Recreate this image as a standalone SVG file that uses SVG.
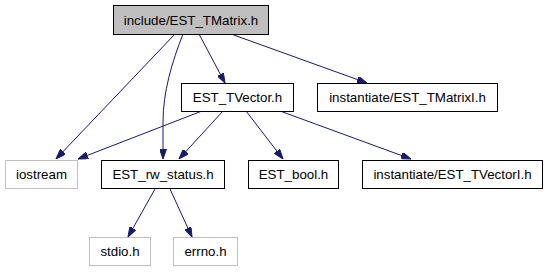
<svg xmlns="http://www.w3.org/2000/svg" width="547" height="272" viewBox="0 0 547 272">
  <style>
    .box { fill: #ffffff; stroke: #000000; stroke-width: 1; }
    .sel { fill: #bfbfbf; stroke: #000000; stroke-width: 1; }
    .ext { fill: #ffffff; stroke: #bfbfbf; stroke-width: 1; }
    .lbl { font-family: "Liberation Sans", Arial, Helvetica, sans-serif; font-size: 13.3px; fill: #000000; text-anchor: middle; }
    .edge { fill: none; stroke: #191970; stroke-width: 1; }
  </style>
  <defs>
    <marker id="arrow" viewBox="0 0 10 7" refX="10" refY="3.5" markerWidth="10" markerHeight="7" markerUnits="userSpaceOnUse" orient="auto">
      <path d="M0,0 L10,3.5 L0,7 Z" fill="#191970" stroke="#191970"/>
    </marker>
  </defs>
  <rect width="547" height="272" fill="#ffffff"/>

  <g id="edges">
    <path class="edge" marker-end="url(#arrow)" d="M175,34 L56,159"/>
    <path class="edge" marker-end="url(#arrow)" d="M183,34 C172,62 163,92 163,122 L163,159"/>
    <path class="edge" marker-end="url(#arrow)" d="M199,34 L225,83"/>
    <path class="edge" marker-end="url(#arrow)" d="M231,34 L367,83"/>
    <path class="edge" marker-end="url(#arrow)" d="M202,111 L78,159"/>
    <path class="edge" marker-end="url(#arrow)" d="M223,111 L179,159"/>
    <path class="edge" marker-end="url(#arrow)" d="M246,111 L283,159"/>
    <path class="edge" marker-end="url(#arrow)" d="M280,111 L411,159"/>
    <path class="edge" marker-end="url(#arrow)" d="M155,189 L128,237"/>
    <path class="edge" marker-end="url(#arrow)" d="M170,189 L192,237"/>
  </g>

  <g id="node_TMatrix">
    <rect class="sel" x="113.5" y="5.5" width="155" height="29"/>
    <text class="lbl" x="191" y="24.5">include/EST_TMatrix.h</text>
  </g>
  <g id="node_TVector">
    <rect class="box" x="181.5" y="83.5" width="112" height="28"/>
    <text class="lbl" x="237.5" y="102">EST_TVector.h</text>
  </g>
  <g id="node_TMatrixI">
    <rect class="box" x="317.5" y="83.5" width="180" height="28"/>
    <text class="lbl" x="407.5" y="102">instantiate/EST_TMatrixI.h</text>
  </g>
  <g id="node_iostream">
    <rect class="ext" x="5.5" y="160.5" width="72" height="28"/>
    <text class="lbl" x="41.5" y="179">iostream</text>
  </g>
  <g id="node_rw_status">
    <rect class="box" x="101.5" y="160.5" width="123" height="28"/>
    <text class="lbl" x="163" y="179">EST_rw_status.h</text>
  </g>
  <g id="node_bool">
    <rect class="box" x="248.5" y="160.5" width="90" height="28"/>
    <text class="lbl" x="293.5" y="179">EST_bool.h</text>
  </g>
  <g id="node_TVectorI">
    <rect class="box" x="362.5" y="160.5" width="180" height="28"/>
    <text class="lbl" x="452.5" y="179">instantiate/EST_TVectorI.h</text>
  </g>
  <g id="node_stdio">
    <rect class="ext" x="89.5" y="237.5" width="61" height="28"/>
    <text class="lbl" x="120" y="256">stdio.h</text>
  </g>
  <g id="node_errno">
    <rect class="ext" x="173.5" y="237.5" width="64" height="28"/>
    <text class="lbl" x="205.5" y="256">errno.h</text>
  </g>
</svg>
